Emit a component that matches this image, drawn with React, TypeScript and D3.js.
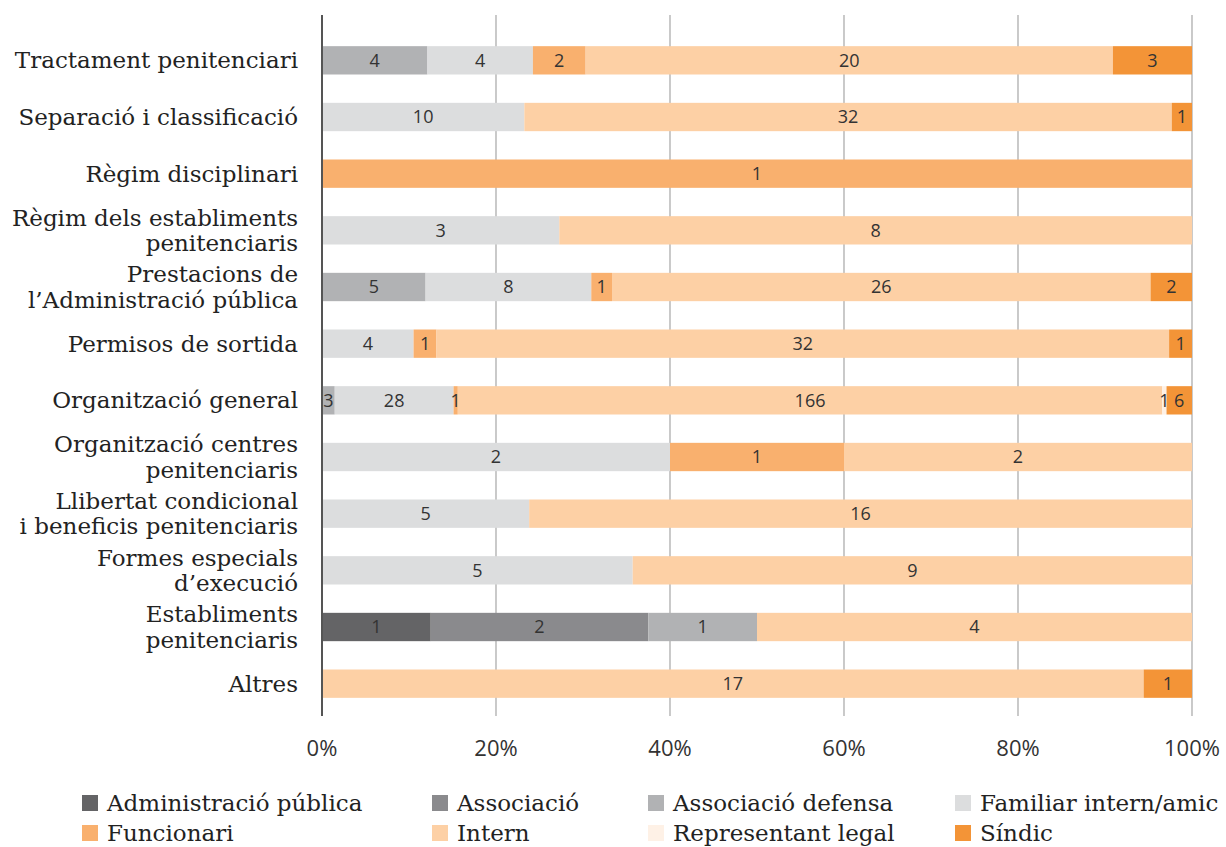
import React from "react";
import * as d3 from "d3";

const categories: string[][] = [
  ["Tractament penitenciari"],
  ["Separació i classificació"],
  ["Règim disciplinari"],
  ["Règim dels establiments", "penitenciaris"],
  ["Prestacions de", "l’Administració pública"],
  ["Permisos de sortida"],
  ["Organització general"],
  ["Organització centres", "penitenciaris"],
  ["Llibertat condicional", "i beneficis penitenciaris"],
  ["Formes especials", "d’execució"],
  ["Establiments", "penitenciaris"],
  ["Altres"],
];

const seriesNames = [
  "Administració pública",
  "Associació",
  "Associació defensa",
  "Familiar intern/amic",
  "Funcionari",
  "Intern",
  "Representant legal",
  "Síndic",
];

const seriesColors = [
  "#646466",
  "#8a8a8d",
  "#b1b2b4",
  "#dcddde",
  "#f9b06e",
  "#fdd0a5",
  "#fef1e6",
  "#f39437",
];

// counts per category, in the order of seriesNames
const adminPublica = [0, 0, 0, 0, 0, 0, 0, 0, 0, 0, 1, 0];
const associacio = [0, 0, 0, 0, 0, 0, 0, 0, 0, 0, 2, 0];
const associacioDefensa = [4, 0, 0, 0, 5, 0, 3, 0, 0, 0, 1, 0];
const familiar = [4, 10, 0, 3, 8, 4, 28, 2, 5, 5, 0, 0];
const funcionari = [2, 0, 1, 0, 1, 1, 1, 1, 0, 0, 0, 0];
const intern = [20, 32, 0, 8, 26, 32, 166, 2, 16, 9, 4, 17];
const representant = [0, 0, 0, 0, 0, 0, 1, 0, 0, 0, 0, 0];
const sindic = [3, 1, 0, 0, 2, 1, 6, 0, 0, 0, 0, 1];

const seriesValues = [
  adminPublica,
  associacio,
  associacioDefensa,
  familiar,
  funcionari,
  intern,
  representant,
  sindic,
];

const ticks = [0, 0.2, 0.4, 0.6, 0.8, 1];

const W = 1226;
const H = 847;
const plotLeft = 322;
const plotRight = 1192;
const plotTop = 32;
const plotBottom = 712;

const serif = "'DejaVu Serif', serif";
const sans = "'Open Sans', sans-serif";

export default function App() {
  const x = d3.scaleLinear().domain([0, 1]).range([plotLeft, plotRight]);
  const y = d3
    .scaleBand<number>()
    .domain(categories.map((_, i) => i))
    .range([plotTop, plotBottom])
    .paddingInner(0.5)
    .paddingOuter(0.25);

  const rows = categories.map((_, ci) => {
    const vals = seriesValues.map((s) => s[ci]);
    const total = d3.sum(vals);
    let acc = 0;
    return vals.map((v, si) => {
      const x0 = acc / total;
      acc += v;
      return { si, v, x0, x1: acc / total };
    });
  });

  const legendCols = [82, 432, 648, 955];
  const legendRows = [803, 833];

  return (
    <svg width={W} height={H} style={{ position: "absolute", left: 0, top: 0 }}>
      <rect width={W} height={H} fill="#fff" />
      {ticks.slice(1).map((t) => (
        <line key={t} x1={x(t)} x2={x(t)} y1={15} y2={716} stroke="#a6a6a6" strokeWidth={1.2} />
      ))}
      {rows.map((segs, ci) => (
        <g key={ci}>
          {segs
            .filter((s) => s.v > 0)
            .map((s) => (
              <rect
                key={s.si}
                x={x(s.x0)}
                width={x(s.x1) - x(s.x0)}
                y={y(ci)!}
                height={y.bandwidth()}
                fill={seriesColors[s.si]}
              />
            ))}
          {segs
            .filter((s) => s.v > 0)
            .map((s) => (
              <text
                key={"t" + s.si}
                x={(x(s.x0) + x(s.x1)) / 2}
                y={y(ci)! + y.bandwidth() / 2}
                dy="0.36em"
                textAnchor="middle"
                fontFamily={sans}
                fontSize={18}
                fill="#333"
              >
                {s.v}
              </text>
            ))}
          <text
            x={298}
            y={y(ci)! + y.bandwidth() / 2}
            textAnchor="end"
            fontFamily={serif}
            fontSize={23}
            fill="#222"
          >
            {categories[ci].map((line, li) => (
              <tspan
                key={li}
                x={298}
                dy={li === 0 ? `${0.35 - (categories[ci].length - 1) * 0.55}em` : "1.1em"}
              >
                {line}
              </tspan>
            ))}
          </text>
        </g>
      ))}
      <line x1={plotLeft} x2={plotLeft} y1={15} y2={716} stroke="#555" strokeWidth={2} />
      {ticks.map((t) => (
        <text
          key={t}
          x={x(t)}
          y={756}
          textAnchor="middle"
          fontFamily={sans}
          fontSize={22}
          fill="#333"
        >
          {d3.format(".0%")(t)}
        </text>
      ))}
      {seriesNames.map((name, i) => {
        const lx = legendCols[i % 4];
        const ly = legendRows[Math.floor(i / 4)];
        return (
          <g key={name}>
            <rect x={lx} y={ly - 8} width={16} height={16} fill={seriesColors[i]} />
            <text x={lx + 25} y={ly} dy="0.35em" fontFamily={serif} fontSize={23} fill="#222">
              {name}
            </text>
          </g>
        );
      })}
    </svg>
  );
}
